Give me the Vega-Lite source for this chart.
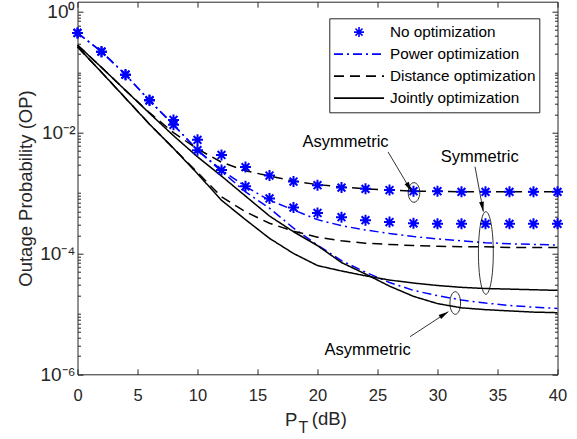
{
  "$schema": "https://vega.github.io/schema/vega-lite/v6.json",
  "width": 480,
  "height": 372.6,
  "autosize": {"type": "none"},
  "padding": {"left": 77.5, "top": 1.7, "right": 19.5, "bottom": 64.7},
  "background": "white",
  "config": {
    "font": "Liberation Sans",
    "view": {"stroke": null},
    "axis": {"grid": false, "domainColor": "#262626", "tickColor": "#262626", "domainWidth": 1, "tickWidth": 1}
  },
  "datasets": {
    "curves": [
      {"x":0,"op":0.447,"method":"No optimization","case":"Asymmetric"},
      {"x":2,"op":0.219,"method":"No optimization","case":"Asymmetric"},
      {"x":4,"op":0.0912,"method":"No optimization","case":"Asymmetric"},
      {"x":6,"op":0.0347,"method":"No optimization","case":"Asymmetric"},
      {"x":8,"op":0.0162,"method":"No optimization","case":"Asymmetric"},
      {"x":10,"op":0.00759,"method":"No optimization","case":"Asymmetric"},
      {"x":12,"op":0.00427,"method":"No optimization","case":"Asymmetric"},
      {"x":14,"op":0.00269,"method":"No optimization","case":"Asymmetric"},
      {"x":16,"op":0.00195,"method":"No optimization","case":"Asymmetric"},
      {"x":18,"op":0.00155,"method":"No optimization","case":"Asymmetric"},
      {"x":20,"op":0.00135,"method":"No optimization","case":"Asymmetric"},
      {"x":22,"op":0.00123,"method":"No optimization","case":"Asymmetric"},
      {"x":24,"op":0.001175,"method":"No optimization","case":"Asymmetric"},
      {"x":26,"op":0.001122,"method":"No optimization","case":"Asymmetric"},
      {"x":28,"op":0.001072,"method":"No optimization","case":"Asymmetric"},
      {"x":30,"op":0.001072,"method":"No optimization","case":"Asymmetric"},
      {"x":32,"op":0.001047,"method":"No optimization","case":"Asymmetric"},
      {"x":34,"op":0.001047,"method":"No optimization","case":"Asymmetric"},
      {"x":36,"op":0.001047,"method":"No optimization","case":"Asymmetric"},
      {"x":38,"op":0.001047,"method":"No optimization","case":"Asymmetric"},
      {"x":40,"op":0.001047,"method":"No optimization","case":"Asymmetric"},
      {"x":0,"op":0.447,"method":"No optimization","case":"Symmetric"},
      {"x":2,"op":0.219,"method":"No optimization","case":"Symmetric"},
      {"x":4,"op":0.0912,"method":"No optimization","case":"Symmetric"},
      {"x":6,"op":0.0339,"method":"No optimization","case":"Symmetric"},
      {"x":8,"op":0.0135,"method":"No optimization","case":"Symmetric"},
      {"x":10,"op":0.00513,"method":"No optimization","case":"Symmetric"},
      {"x":12,"op":0.0024,"method":"No optimization","case":"Symmetric"},
      {"x":14,"op":0.00129,"method":"No optimization","case":"Symmetric"},
      {"x":16,"op":0.000813,"method":"No optimization","case":"Symmetric"},
      {"x":18,"op":0.000575,"method":"No optimization","case":"Symmetric"},
      {"x":20,"op":0.000468,"method":"No optimization","case":"Symmetric"},
      {"x":22,"op":0.000398,"method":"No optimization","case":"Symmetric"},
      {"x":24,"op":0.000355,"method":"No optimization","case":"Symmetric"},
      {"x":26,"op":0.000331,"method":"No optimization","case":"Symmetric"},
      {"x":28,"op":0.000316,"method":"No optimization","case":"Symmetric"},
      {"x":30,"op":0.000309,"method":"No optimization","case":"Symmetric"},
      {"x":32,"op":0.000309,"method":"No optimization","case":"Symmetric"},
      {"x":34,"op":0.000309,"method":"No optimization","case":"Symmetric"},
      {"x":36,"op":0.000309,"method":"No optimization","case":"Symmetric"},
      {"x":38,"op":0.000309,"method":"No optimization","case":"Symmetric"},
      {"x":40,"op":0.000309,"method":"No optimization","case":"Symmetric"},
      {"x":0,"op":0.447,"method":"Power optimization","case":"Symmetric"},
      {"x":2,"op":0.219,"method":"Power optimization","case":"Symmetric"},
      {"x":4,"op":0.0912,"method":"Power optimization","case":"Symmetric"},
      {"x":6,"op":0.0339,"method":"Power optimization","case":"Symmetric"},
      {"x":8,"op":0.0135,"method":"Power optimization","case":"Symmetric"},
      {"x":10,"op":0.00513,"method":"Power optimization","case":"Symmetric"},
      {"x":12,"op":0.0024,"method":"Power optimization","case":"Symmetric"},
      {"x":14,"op":0.00129,"method":"Power optimization","case":"Symmetric"},
      {"x":16,"op":0.000759,"method":"Power optimization","case":"Symmetric"},
      {"x":18,"op":0.000525,"method":"Power optimization","case":"Symmetric"},
      {"x":20,"op":0.000363,"method":"Power optimization","case":"Symmetric"},
      {"x":22,"op":0.000288,"method":"Power optimization","case":"Symmetric"},
      {"x":24,"op":0.000245,"method":"Power optimization","case":"Symmetric"},
      {"x":26,"op":0.000214,"method":"Power optimization","case":"Symmetric"},
      {"x":28,"op":0.000191,"method":"Power optimization","case":"Symmetric"},
      {"x":30,"op":0.000174,"method":"Power optimization","case":"Symmetric"},
      {"x":32,"op":0.000162,"method":"Power optimization","case":"Symmetric"},
      {"x":34,"op":0.000151,"method":"Power optimization","case":"Symmetric"},
      {"x":36,"op":0.000145,"method":"Power optimization","case":"Symmetric"},
      {"x":38,"op":0.000141,"method":"Power optimization","case":"Symmetric"},
      {"x":40,"op":0.000138,"method":"Power optimization","case":"Symmetric"},
      {"x":0,"op":0.447,"method":"Power optimization","case":"Asymmetric"},
      {"x":2,"op":0.219,"method":"Power optimization","case":"Asymmetric"},
      {"x":4,"op":0.0912,"method":"Power optimization","case":"Asymmetric"},
      {"x":6,"op":0.0339,"method":"Power optimization","case":"Asymmetric"},
      {"x":8,"op":0.0135,"method":"Power optimization","case":"Asymmetric"},
      {"x":10,"op":0.00513,"method":"Power optimization","case":"Asymmetric"},
      {"x":12,"op":0.00229,"method":"Power optimization","case":"Asymmetric"},
      {"x":14,"op":0.001047,"method":"Power optimization","case":"Asymmetric"},
      {"x":16,"op":0.000562,"method":"Power optimization","case":"Asymmetric"},
      {"x":18,"op":0.000263,"method":"Power optimization","case":"Asymmetric"},
      {"x":20,"op":0.000138,"method":"Power optimization","case":"Asymmetric"},
      {"x":22,"op":0.0000759,"method":"Power optimization","case":"Asymmetric"},
      {"x":24,"op":0.000049,"method":"Power optimization","case":"Asymmetric"},
      {"x":26,"op":0.0000331,"method":"Power optimization","case":"Asymmetric"},
      {"x":28,"op":0.0000245,"method":"Power optimization","case":"Asymmetric"},
      {"x":30,"op":0.00002,"method":"Power optimization","case":"Asymmetric"},
      {"x":32,"op":0.000017,"method":"Power optimization","case":"Asymmetric"},
      {"x":34,"op":0.0000151,"method":"Power optimization","case":"Asymmetric"},
      {"x":36,"op":0.0000138,"method":"Power optimization","case":"Asymmetric"},
      {"x":38,"op":0.0000129,"method":"Power optimization","case":"Asymmetric"},
      {"x":40,"op":0.0000123,"method":"Power optimization","case":"Asymmetric"},
      {"x":0,"op":0.282,"method":"Distance optimization","case":"Asymmetric"},
      {"x":2,"op":0.1202,"method":"Distance optimization","case":"Asymmetric"},
      {"x":4,"op":0.0501,"method":"Distance optimization","case":"Asymmetric"},
      {"x":6,"op":0.0214,"method":"Distance optimization","case":"Asymmetric"},
      {"x":8,"op":0.01,"method":"Distance optimization","case":"Asymmetric"},
      {"x":10,"op":0.00537,"method":"Distance optimization","case":"Asymmetric"},
      {"x":12,"op":0.00324,"method":"Distance optimization","case":"Asymmetric"},
      {"x":14,"op":0.00234,"method":"Distance optimization","case":"Asymmetric"},
      {"x":16,"op":0.00191,"method":"Distance optimization","case":"Asymmetric"},
      {"x":18,"op":0.00158,"method":"Distance optimization","case":"Asymmetric"},
      {"x":20,"op":0.00138,"method":"Distance optimization","case":"Asymmetric"},
      {"x":22,"op":0.00126,"method":"Distance optimization","case":"Asymmetric"},
      {"x":24,"op":0.001175,"method":"Distance optimization","case":"Asymmetric"},
      {"x":26,"op":0.001122,"method":"Distance optimization","case":"Asymmetric"},
      {"x":28,"op":0.001072,"method":"Distance optimization","case":"Asymmetric"},
      {"x":30,"op":0.001072,"method":"Distance optimization","case":"Asymmetric"},
      {"x":32,"op":0.001047,"method":"Distance optimization","case":"Asymmetric"},
      {"x":34,"op":0.001047,"method":"Distance optimization","case":"Asymmetric"},
      {"x":36,"op":0.001047,"method":"Distance optimization","case":"Asymmetric"},
      {"x":38,"op":0.001047,"method":"Distance optimization","case":"Asymmetric"},
      {"x":40,"op":0.001047,"method":"Distance optimization","case":"Asymmetric"},
      {"x":0,"op":0.263,"method":"Distance optimization","case":"Symmetric"},
      {"x":2,"op":0.1,"method":"Distance optimization","case":"Symmetric"},
      {"x":4,"op":0.0372,"method":"Distance optimization","case":"Symmetric"},
      {"x":6,"op":0.0138,"method":"Distance optimization","case":"Symmetric"},
      {"x":8,"op":0.0055,"method":"Distance optimization","case":"Symmetric"},
      {"x":10,"op":0.00219,"method":"Distance optimization","case":"Symmetric"},
      {"x":12,"op":0.000871,"method":"Distance optimization","case":"Symmetric"},
      {"x":14,"op":0.00049,"method":"Distance optimization","case":"Symmetric"},
      {"x":16,"op":0.000316,"method":"Distance optimization","case":"Symmetric"},
      {"x":18,"op":0.000234,"method":"Distance optimization","case":"Symmetric"},
      {"x":20,"op":0.000186,"method":"Distance optimization","case":"Symmetric"},
      {"x":22,"op":0.000162,"method":"Distance optimization","case":"Symmetric"},
      {"x":24,"op":0.000148,"method":"Distance optimization","case":"Symmetric"},
      {"x":26,"op":0.000141,"method":"Distance optimization","case":"Symmetric"},
      {"x":28,"op":0.000135,"method":"Distance optimization","case":"Symmetric"},
      {"x":30,"op":0.000132,"method":"Distance optimization","case":"Symmetric"},
      {"x":32,"op":0.000129,"method":"Distance optimization","case":"Symmetric"},
      {"x":34,"op":0.000129,"method":"Distance optimization","case":"Symmetric"},
      {"x":36,"op":0.000126,"method":"Distance optimization","case":"Symmetric"},
      {"x":38,"op":0.000126,"method":"Distance optimization","case":"Symmetric"},
      {"x":40,"op":0.000126,"method":"Distance optimization","case":"Symmetric"},
      {"x":0,"op":0.282,"method":"Jointly optimization","case":"Asymmetric"},
      {"x":2,"op":0.1202,"method":"Jointly optimization","case":"Asymmetric"},
      {"x":4,"op":0.0501,"method":"Jointly optimization","case":"Asymmetric"},
      {"x":6,"op":0.0209,"method":"Jointly optimization","case":"Asymmetric"},
      {"x":8,"op":0.00891,"method":"Jointly optimization","case":"Asymmetric"},
      {"x":10,"op":0.00398,"method":"Jointly optimization","case":"Asymmetric"},
      {"x":12,"op":0.00191,"method":"Jointly optimization","case":"Asymmetric"},
      {"x":14,"op":0.000891,"method":"Jointly optimization","case":"Asymmetric"},
      {"x":16,"op":0.000417,"method":"Jointly optimization","case":"Asymmetric"},
      {"x":18,"op":0.000229,"method":"Jointly optimization","case":"Asymmetric"},
      {"x":20,"op":0.000135,"method":"Jointly optimization","case":"Asymmetric"},
      {"x":22,"op":0.0000708,"method":"Jointly optimization","case":"Asymmetric"},
      {"x":24,"op":0.0000457,"method":"Jointly optimization","case":"Asymmetric"},
      {"x":26,"op":0.0000288,"method":"Jointly optimization","case":"Asymmetric"},
      {"x":28,"op":0.0000195,"method":"Jointly optimization","case":"Asymmetric"},
      {"x":30,"op":0.0000148,"method":"Jointly optimization","case":"Asymmetric"},
      {"x":32,"op":0.0000126,"method":"Jointly optimization","case":"Asymmetric"},
      {"x":34,"op":0.00001175,"method":"Jointly optimization","case":"Asymmetric"},
      {"x":36,"op":0.0000112,"method":"Jointly optimization","case":"Asymmetric"},
      {"x":38,"op":0.0000107,"method":"Jointly optimization","case":"Asymmetric"},
      {"x":40,"op":0.00001047,"method":"Jointly optimization","case":"Asymmetric"},
      {"x":0,"op":0.263,"method":"Jointly optimization","case":"Symmetric"},
      {"x":2,"op":0.1,"method":"Jointly optimization","case":"Symmetric"},
      {"x":4,"op":0.0372,"method":"Jointly optimization","case":"Symmetric"},
      {"x":6,"op":0.0138,"method":"Jointly optimization","case":"Symmetric"},
      {"x":8,"op":0.0055,"method":"Jointly optimization","case":"Symmetric"},
      {"x":10,"op":0.00209,"method":"Jointly optimization","case":"Symmetric"},
      {"x":12,"op":0.000759,"method":"Jointly optimization","case":"Symmetric"},
      {"x":14,"op":0.000363,"method":"Jointly optimization","case":"Symmetric"},
      {"x":16,"op":0.000178,"method":"Jointly optimization","case":"Symmetric"},
      {"x":18,"op":0.0001,"method":"Jointly optimization","case":"Symmetric"},
      {"x":20,"op":0.0000631,"method":"Jointly optimization","case":"Symmetric"},
      {"x":22,"op":0.0000513,"method":"Jointly optimization","case":"Symmetric"},
      {"x":24,"op":0.0000427,"method":"Jointly optimization","case":"Symmetric"},
      {"x":26,"op":0.0000363,"method":"Jointly optimization","case":"Symmetric"},
      {"x":28,"op":0.0000324,"method":"Jointly optimization","case":"Symmetric"},
      {"x":30,"op":0.0000295,"method":"Jointly optimization","case":"Symmetric"},
      {"x":32,"op":0.0000275,"method":"Jointly optimization","case":"Symmetric"},
      {"x":34,"op":0.0000263,"method":"Jointly optimization","case":"Symmetric"},
      {"x":36,"op":0.0000257,"method":"Jointly optimization","case":"Symmetric"},
      {"x":38,"op":0.0000251,"method":"Jointly optimization","case":"Symmetric"},
      {"x":40,"op":0.0000245,"method":"Jointly optimization","case":"Symmetric"}
    ],
    "notes": [
      {"x":22.33,"op":0.0071,"label":"Asymmetric"},
      {"x":33.52,"op":0.00401,"label":"Symmetric"},
      {"x":24.17,"op":0.00000252,"label":"Asymmetric"}
    ],
    "arrows": [
      {"x":25.88,"op":0.00479,"x2":27.85,"op2":0.001054,"id":"a1"},
      {"x":33.125,"op":0.002735,"x2":33.82,"op2":0.000492,"id":"a2"},
      {"x":27.71,"op":0.00000419,"x2":30.9,"op2":0.00001087,"id":"a3"}
    ],
    "ellipses": [
      {"x":28.04,"op":0.001023,"id":"e1"},
      {"x":34.03,"op":0.0001019,"id":"e2"},
      {"x":31.48,"op":0.00001514,"id":"e3"}
    ],
    "xtitle": [
      {"x":18.82,"op":0.0000001087,"label":"T","part":"sub"},
      {"x":19.53,"op":0.0000001448,"label":"(dB)","part":"unit"}
    ]
  },
  "resolve": {"axis": {"x": "independent", "y": "independent"}},
  "layer": [
    {
      "data": {"name": "curves"},
      "transform": [{"filter": "datum.method != 'No optimization'"}],
      "mark": {"type": "line", "strokeWidth": 1.5},
      "encoding": {
        "x": {"field": "x", "type": "quantitative",
          "scale": {"domain": [0, 40], "nice": false, "zero": false},
          "axis": {"orient": "bottom", "values": [0,5,10,15,20,25,30,35,40], "tickSize": -5.5,
            "labelFont": "Liberation Sans", "labelFontSize": 16.5, "labelColor": "#262626",
            "labelBaseline": "alphabetic", "labelPadding": 31.2, "labelFlush": false, "labelOverlap": false,
            "title": "P", "titleFont": "Liberation Sans", "titleFontSize": 18.5,
            "titleFontWeight": "normal", "titleColor": "#262626", "titleX": 207, "titleAlign": "left",
            "titleY": 50.7, "titleBaseline": "alphabetic"}},
        "y": {"field": "op", "type": "quantitative",
          "scale": {"type": "log", "domain": [0.000001, 1.47], "nice": false, "zero": false},
          "axis": {"orient": "left", "values": [0.000001, 0.0001, 0.01, 1], "tickSize": -5.5,
            "labelExpr": "datum.value > 0.5 ? '10⁰' : datum.value > 0.005 ? '10⁻²' : datum.value > 0.00005 ? '10⁻⁴' : '10⁻⁶'",
            "labelFont": "Liberation Sans", "labelFontSize": 19, "labelColor": "#262626",
            "labelPadding": 8, "labelFlush": false, "labelOverlap": false,
            "title": "Outage Probability (OP)", "titleFont": "Liberation Sans", "titleFontSize": 18.5,
            "titleFontWeight": "normal", "titleColor": "#262626", "titleX": -45.8, "titleY": 186.3,
            "titleBaseline": "alphabetic", "titleAngle": 270, "titleAlign": "center"}},
        "color": {"field": "method", "type": "nominal",
          "scale": {"domain": ["No optimization","Power optimization","Distance optimization","Jointly optimization"],
                    "range": ["#0000ff","#0000ff","#000000","#000000"]},
          "legend": {"orient": "none", "legendX": 251.8, "legendY": 16.6, "title": null,
            "symbolSize": 2500, "clipHeight": 21.6, "padding": 3, "rowPadding": 0,
            "symbolOffset": 0.7, "labelOffset": 5, "symbolStrokeWidth": 1.6,
            "labelFont": "Liberation Sans", "labelFontSize": 15.3, "labelColor": "#000000",
            "strokeColor": "#262626", "fillColor": "#ffffff", "cornerRadius": 0,
            "encode": {"symbols": {"update": {
              "shape": {"signal": "datum.value === 'No optimization' ? 'M0,-0.2L0,0.2M-0.2,0L0.2,0M-0.141,-0.141L0.141,0.141M-0.141,0.141L0.141,-0.141' : 'M-1,0L1,0'"},
              "size": {"value": 2500},
              "fill": {"value": "transparent"},
              "opacity": {"value": 1}
            }}}}},
        "strokeDash": {"field": "method", "type": "nominal",
          "scale": {"domain": ["No optimization","Power optimization","Distance optimization","Jointly optimization"],
                    "range": [[1,0],[9,4,2,4],[10,6],[1,0]]},
          "legend": {"orient": "none", "legendX": 251.8, "legendY": 16.6, "title": null,
            "symbolSize": 2500, "clipHeight": 21.6, "padding": 3, "rowPadding": 0,
            "symbolOffset": 0.7, "labelOffset": 5, "symbolStrokeWidth": 1.6,
            "labelFont": "Liberation Sans", "labelFontSize": 15.3, "labelColor": "#000000",
            "strokeColor": "#262626", "fillColor": "#ffffff", "cornerRadius": 0}},
        "detail": {"field": "case", "type": "nominal"}
      }
    },
    {
      "data": {"name": "curves"},
      "transform": [{"filter": "datum.method == 'No optimization'"}],
      "mark": {"type": "point", "shape": "M0,-1L0,1M-1,0L1,0M-0.71,-0.71L0.71,0.71M-0.71,0.71L0.71,-0.71",
               "size": 121, "filled": false, "strokeWidth": 2, "opacity": 1},
      "encoding": {
        "x": {"field": "x", "type": "quantitative",
          "scale": {"domain": [0, 40], "nice": false, "zero": false},
          "axis": {"orient": "top", "values": [0,5,10,15,20,25,30,35,40], "tickSize": -5.5, "labels": false, "title": null}},
        "y": {"field": "op", "type": "quantitative",
          "scale": {"type": "log", "domain": [0.000001, 1.47], "nice": false, "zero": false},
          "axis": {"orient": "right", "values": [0.000001, 0.0001, 0.01, 1], "tickSize": -5.5, "labels": false, "title": null}},
        "color": {"field": "method", "type": "nominal"}
      }
    },
    {
      "data": {"name": "ellipses"},
      "transform": [{"filter": "datum.id == 'e1'"}],
      "mark": {"type": "point", "shape": "M-0.59,0A0.59,1 0 1,0 0.59,0A0.59,1 0 1,0 -0.59,0Z",
               "size": 384, "filled": false, "stroke": "#000000", "strokeWidth": 0.8, "opacity": 1},
      "encoding": {
        "x": {"field": "x", "type": "quantitative", "scale": {"domain": [0, 40], "nice": false, "zero": false}, "axis": null},
        "y": {"field": "op", "type": "quantitative",
          "scale": {"type": "log", "domain": [0.000001, 1.47], "nice": false, "zero": false},
          "axis": {"orient": "left", "tickSize": -3, "labels": false, "domain": false, "title": null,
            "values": [0.000002,0.000003,0.000004,0.000005,0.000006,0.000007,0.000008,0.000009,
                       0.00001,0.00002,0.00003,0.00004,0.00005,0.00006,0.00007,0.00008,0.00009,
                       0.0002,0.0003,0.0004,0.0005,0.0006,0.0007,0.0008,0.0009,
                       0.001,0.002,0.003,0.004,0.005,0.006,0.007,0.008,0.009,
                       0.02,0.03,0.04,0.05,0.06,0.07,0.08,0.09,
                       0.1,0.2,0.3,0.4,0.5,0.6,0.7,0.8,0.9]}}
      }
    },
    {
      "data": {"name": "ellipses"},
      "transform": [{"filter": "datum.id == 'e2'"}],
      "mark": {"type": "point", "shape": "M-0.18,0A0.18,1 0 1,0 0.18,0A0.18,1 0 1,0 -0.18,0Z",
               "size": 6823, "filled": false, "stroke": "#000000", "strokeWidth": 0.8, "opacity": 1},
      "encoding": {
        "x": {"field": "x", "type": "quantitative", "scale": {"domain": [0, 40], "nice": false, "zero": false}, "axis": null},
        "y": {"field": "op", "type": "quantitative",
          "scale": {"type": "log", "domain": [0.000001, 1.47], "nice": false, "zero": false},
          "axis": {"orient": "right", "tickSize": -3, "labels": false, "domain": false, "title": null,
            "values": [0.000002,0.000003,0.000004,0.000005,0.000006,0.000007,0.000008,0.000009,
                       0.00001,0.00002,0.00003,0.00004,0.00005,0.00006,0.00007,0.00008,0.00009,
                       0.0002,0.0003,0.0004,0.0005,0.0006,0.0007,0.0008,0.0009,
                       0.001,0.002,0.003,0.004,0.005,0.006,0.007,0.008,0.009,
                       0.02,0.03,0.04,0.05,0.06,0.07,0.08,0.09,
                       0.1,0.2,0.3,0.4,0.5,0.6,0.7,0.8,0.9]}}
      }
    },
    {
      "data": {"name": "ellipses"},
      "transform": [{"filter": "datum.id == 'e3'"}],
      "mark": {"type": "point", "shape": "M-0.47,0A0.47,1 0 1,0 0.47,0A0.47,1 0 1,0 -0.47,0Z",
               "size": 511, "filled": false, "stroke": "#000000", "strokeWidth": 0.8, "opacity": 1},
      "encoding": {
        "x": {"field": "x", "type": "quantitative", "scale": {"domain": [0, 40], "nice": false, "zero": false}, "axis": null},
        "y": {"field": "op", "type": "quantitative", "scale": {"type": "log", "domain": [0.000001, 1.47], "nice": false, "zero": false}, "axis": null}
      }
    },
    {
      "data": {"name": "arrows"},
      "mark": {"type": "rule", "stroke": "#000000", "strokeWidth": 0.8},
      "encoding": {
        "x": {"field": "x", "type": "quantitative", "scale": {"domain": [0, 40], "nice": false, "zero": false}, "axis": null},
        "y": {"field": "op", "type": "quantitative", "scale": {"type": "log", "domain": [0.000001, 1.47], "nice": false, "zero": false}, "axis": null},
        "x2": {"field": "x2"},
        "y2": {"field": "op2"}
      }
    },
    {
      "data": {"name": "arrows"},
      "transform": [{"filter": "datum.id == 'a1'"}],
      "mark": {"type": "point", "shape": "M0,0L-1,-0.24L-1,0.24Z", "size": 400, "filled": true, "color": "#000000", "opacity": 1, "angle": 59.7},
      "encoding": {
        "x": {"field": "x2", "type": "quantitative", "scale": {"domain": [0, 40], "nice": false, "zero": false}, "axis": null},
        "y": {"field": "op2", "type": "quantitative", "scale": {"type": "log", "domain": [0.000001, 1.47], "nice": false, "zero": false}, "axis": null}
      }
    },
    {
      "data": {"name": "arrows"},
      "transform": [{"filter": "datum.id == 'a2'"}],
      "mark": {"type": "point", "shape": "M0,0L-1,-0.24L-1,0.24Z", "size": 400, "filled": true, "color": "#000000", "opacity": 1, "angle": 79.3},
      "encoding": {
        "x": {"field": "x2", "type": "quantitative", "scale": {"domain": [0, 40], "nice": false, "zero": false}, "axis": null},
        "y": {"field": "op2", "type": "quantitative", "scale": {"type": "log", "domain": [0.000001, 1.47], "nice": false, "zero": false}, "axis": null}
      }
    },
    {
      "data": {"name": "arrows"},
      "transform": [{"filter": "datum.id == 'a3'"}],
      "mark": {"type": "point", "shape": "M0,0L-1,-0.24L-1,0.24Z", "size": 400, "filled": true, "color": "#000000", "opacity": 1, "angle": -32.6},
      "encoding": {
        "x": {"field": "x2", "type": "quantitative", "scale": {"domain": [0, 40], "nice": false, "zero": false}, "axis": null},
        "y": {"field": "op2", "type": "quantitative", "scale": {"type": "log", "domain": [0.000001, 1.47], "nice": false, "zero": false}, "axis": null}
      }
    },
    {
      "data": {"name": "notes"},
      "mark": {"type": "text", "font": "Liberation Sans", "fontSize": 16.5, "color": "#000000", "align": "center", "baseline": "middle"},
      "encoding": {
        "x": {"field": "x", "type": "quantitative", "scale": {"domain": [0, 40], "nice": false, "zero": false}, "axis": null},
        "y": {"field": "op", "type": "quantitative", "scale": {"type": "log", "domain": [0.000001, 1.47], "nice": false, "zero": false}, "axis": null},
        "text": {"field": "label"}
      }
    },
    {
      "data": {"name": "xtitle"},
      "transform": [{"filter": "datum.part == 'sub'"}],
      "mark": {"type": "text", "font": "Liberation Sans", "fontSize": 16, "color": "#262626", "align": "center", "baseline": "alphabetic"},
      "encoding": {
        "x": {"field": "x", "type": "quantitative", "scale": {"domain": [0, 40], "nice": false, "zero": false}, "axis": null},
        "y": {"field": "op", "type": "quantitative", "scale": {"type": "log", "domain": [0.000001, 1.47], "nice": false, "zero": false}, "axis": null},
        "text": {"field": "label"}
      }
    },
    {
      "data": {"name": "xtitle"},
      "transform": [{"filter": "datum.part == 'unit'"}],
      "mark": {"type": "text", "font": "Liberation Sans", "fontSize": 18.5, "color": "#262626", "align": "left", "baseline": "alphabetic"},
      "encoding": {
        "x": {"field": "x", "type": "quantitative", "scale": {"domain": [0, 40], "nice": false, "zero": false}, "axis": null},
        "y": {"field": "op", "type": "quantitative", "scale": {"type": "log", "domain": [0.000001, 1.47], "nice": false, "zero": false}, "axis": null},
        "text": {"field": "label"}
      }
    }
  ]
}
